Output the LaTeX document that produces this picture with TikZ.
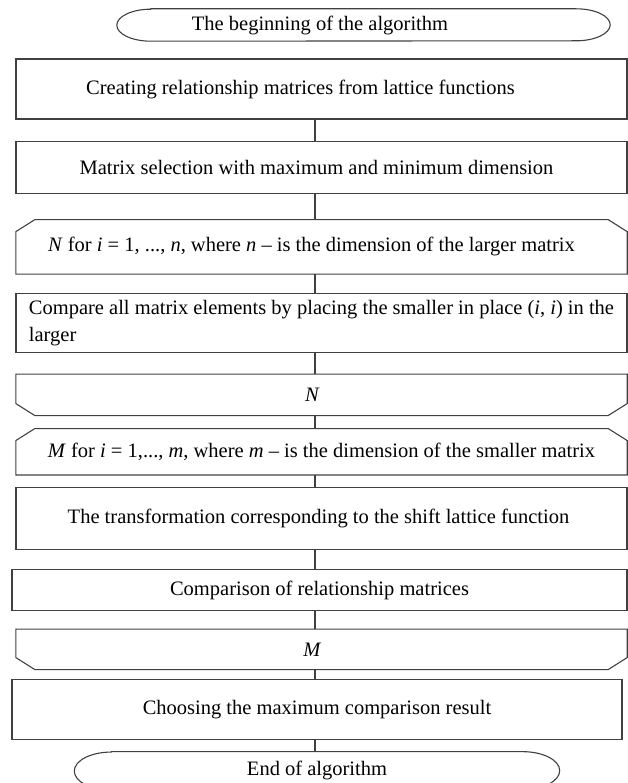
\documentclass[tikz,border=0pt]{standalone}
\usepackage{fontspec}
\setmainfont{Liberation Serif}
\usetikzlibrary{positioning}

\definecolor{edgegray}{RGB}{64,64,64}

% capsule with elliptic caps round a node: name, cap width, cap height
\newcommand{\capsule}[3]{\draw[shape line] ([xshift=#2]#1.north west) -- ([xshift=-#2]#1.north east)
  arc[start angle=90, end angle=-90, x radius=#2, y radius=#3] -- ([xshift=#2]#1.south west)
  arc[start angle=270, end angle=90, x radius=#2, y radius=#3] -- cycle;}
% loop limits: top corners cut (start), bottom corners cut (end)
\newcommand{\loopstart}[1]{\draw[shape line] (#1.south west) -- ([yshift=-12pt]#1.north west)
  -- ([xshift=19pt]#1.north west) -- ([xshift=-19pt]#1.north east)
  -- ([yshift=-12pt]#1.north east) -- (#1.south east) -- cycle;}
\newcommand{\loopend}[1]{\draw[shape line] (#1.north west) -- ([yshift=12pt]#1.south west)
  -- ([xshift=19pt]#1.south west) -- ([xshift=-19pt]#1.south east)
  -- ([yshift=12pt]#1.south east) -- (#1.north east) -- cycle;}

\begin{document}
\begin{tikzpicture}[x=1pt, y=1pt,
    every node/.style={font=\fontsize{20.5}{27}\selectfont, text=black},
    block/.style={draw=edgegray, line width=1.1pt, minimum width=611pt, inner sep=0pt, align=center},
    loopnode/.style={minimum width=611pt, inner sep=0pt},
    terminal/.style={inner sep=0pt},
    shape line/.style={draw=edgegray, line width=1.1pt},
    link/.style={draw=edgegray, line width=1.1pt}
    ]
\useasboundingbox (0,0) rectangle (628,-783);
\clip (0,0) rectangle (628,-783);
\coordinate (axis) at (315,0);

\node[terminal, minimum width=493pt, minimum height=32pt] (start) at (363.5,-25)
    {The beginning of the algorithm\hspace*{87pt}};
\node[block, minimum height=60pt] (b1) at (321.5,-89)
    {Creating relationship matrices from lattice functions\hspace*{42pt}};
\node[block, minimum height=52pt, below=21pt of b1] (b2)
    {Matrix selection with maximum and minimum dimension\hspace*{10pt}};
\node[loopnode, minimum height=54pt, below=26pt of b2] (ns)
    {\textit{N} for \textit{i} = 1, ..., \textit{n}, where \textit{n} -- is the dimension of the larger matrix\hspace*{20pt}};
\node[block, minimum height=59pt, below=19pt of ns, align=left] (b3)
    {Compare all matrix elements by placing the smaller in place (\textit{i}, \textit{i}) in the\\larger};
\node[loopnode, minimum height=41pt, below=21pt of b3] (ne) {\textit{N}\hspace*{18pt}};
\node[loopnode, minimum height=46pt, below=13pt of ne] (ms)
    {\textit{M} for \textit{i} = 1,..., \textit{m}, where \textit{m} -- is the dimension of the smaller matrix};
\node[block, minimum height=62pt, below=12pt of ms] (b4)
    {The transformation corresponding to the shift lattice function\hspace*{6pt}};
\node[block, minimum width=615pt, minimum height=41pt, below=19pt of b4, xshift=-2pt] (b5)
    {Comparison of relationship matrices};
\node[loopnode, minimum height=40pt, below=18pt of b5, xshift=2pt] (me) {\textit{M}\hspace*{18pt}};
\node[block, minimum width=610pt, minimum height=60pt, below=9pt of me, xshift=-4.5pt] (b6)
    {Choosing the maximum comparison result};
\node[terminal, minimum width=485pt, minimum height=38pt, below=12pt of b6] (stop)
    {\raisebox{4pt}{End of algorithm}};

\capsule{start}{34pt}{16pt}
\capsule{stop}{37pt}{19pt}
\loopstart{ns}
\loopend{ne}
\loopstart{ms}
\loopend{me}

\foreach \a/\b in {b1/b2, b2/ns, ns/b3, b3/ne, ne/ms, ms/b4, b4/b5, b5/me, me/b6, b6/stop}
  \draw[link] (\a.south -| axis) -- (\b.north -| axis);
\end{tikzpicture}
\end{document}
